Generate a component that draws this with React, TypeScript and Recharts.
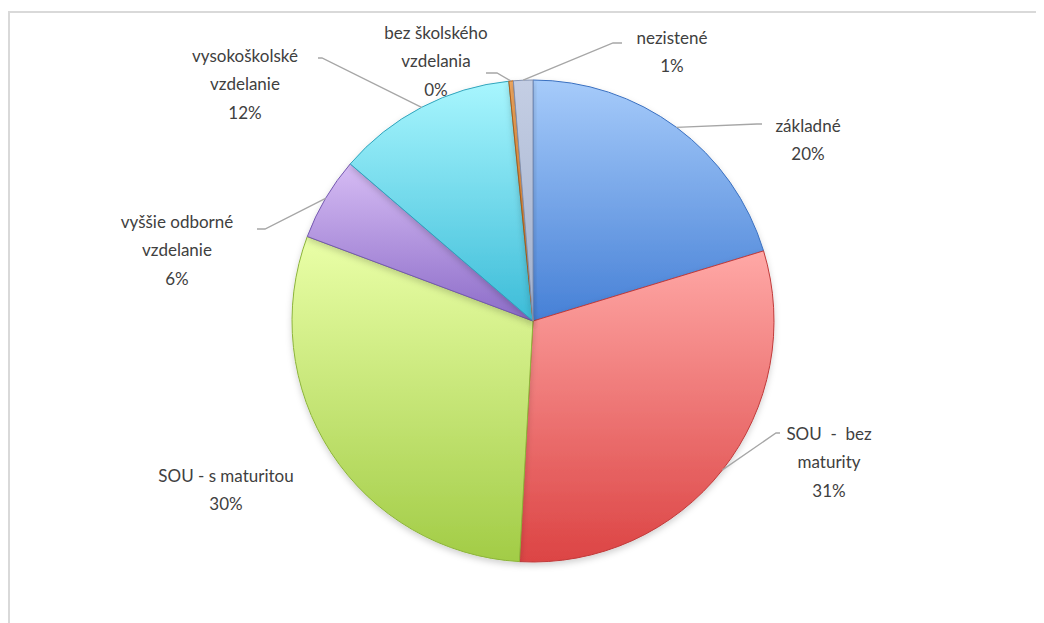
import { PieChart, Pie, Cell } from 'recharts'

const CATEGORIES = [
  'základné',
  'SOU - bez maturity',
  'SOU - s maturitou',
  'vyššie odborné vzdelanie',
  'vysokoškolské vzdelanie',
  'bez školského vzdelania',
  'nezistené',
]
const SHARES = [20.3, 30.6, 29.8, 5.6, 12.1, 0.3, 1.3]
const LABEL_LINES = [
  ['základné'],
  ['SOU  -  bez', 'maturity'],
  ['SOU - s maturitou'],
  ['vyššie odborné', 'vzdelanie'],
  ['vysokoškolské', 'vzdelanie'],
  ['bez školského', 'vzdelania'],
  ['nezistené'],
]

// top -> bottom gradient stops per slice
const FILLS = [
  ['#a6cbfa', '#4680d6'],
  ['#ffa8a6', '#dc4444'],
  ['#eaffa8', '#a2cc46'],
  ['#d6bcf4', '#8c6cc8'],
  ['#a8f6fe', '#3cbcd8'],
  ['#f0a860', '#d07420'],
  ['#c4cee4', '#a2b0cc'],
]
const EDGES = ['#3a70c0', '#c03a3a', '#8cb43a', '#7458b0', '#30a4bc', '#b0601a', '#8090b0']

// label placement relative to pie centre: text centre x, first line y, leader elbow and end
const LABEL_LAYOUT = [
  { tx: 275, ty: -196, elbow: [224, -197], end: [229, -197] },
  { tx: 296, ty: 112, elbow: [243, 112], end: [247, 112] },
  { tx: -307, ty: 154, elbow: null, end: null },
  { tx: -356, ty: -100, elbow: [-268, -92], end: [-276, -92] },
  { tx: -288, ty: -266, elbow: [-211, -263], end: [-215, -263] },
  { tx: -97, ty: -289, elbow: [-36, -248], end: [-47, -248] },
  { tx: 139, ty: -284, elbow: [80, -278], end: [89, -278] },
]

const data = CATEGORIES.map((name, i) => ({ name, value: SHARES[i] }))

const RAD = Math.PI / 180
const LINE_H = 28.5

function renderLabel(props: any) {
  const { cx, cy, midAngle, outerRadius, index, percent } = props
  const lay = LABEL_LAYOUT[index]
  const lines = [...LABEL_LINES[index], `${Math.round(percent * 100)}%`]
  const sx = cx + outerRadius * Math.cos(-midAngle * RAD)
  const sy = cy + outerRadius * Math.sin(-midAngle * RAD)
  return (
    <g key={`lbl-${index}`}>
      {lay.elbow && lay.end && (
        <polyline
          points={`${sx},${sy} ${cx + lay.elbow[0]},${cy + lay.elbow[1]} ${cx + lay.end[0]},${cy + lay.end[1]}`}
          fill="none"
          stroke="#a6a6a6"
          strokeWidth={1.3}
        />
      )}
      <text
        x={cx + lay.tx}
        y={cy + lay.ty}
        textAnchor="middle"
        fill="#404040"
        fontSize={17}
        fontFamily="Lato, 'Open Sans', sans-serif"
        style={{ whiteSpace: 'pre' }}
      >
        {lines.map((t, i) => (
          <tspan key={i} x={cx + lay.tx} y={cy + lay.ty + i * LINE_H} dominantBaseline="central">
            {t}
          </tspan>
        ))}
      </text>
    </g>
  )
}

export default function App() {
  return (
    <div style={{ position: 'relative', width: 1036, height: 615, background: '#fff' }}>
      <div
        style={{
          position: 'absolute',
          left: 0,
          top: 3,
          right: 0,
          bottom: 0,
          borderTop: '2px solid #d9d9d9',
          borderLeft: '2px solid #d9d9d9',
        }}
      />
      <div style={{ position: 'absolute', left: 0, top: 0 }}>
        <PieChart width={1036} height={615}>
          <defs>
            {FILLS.map((f, i) => (
              <linearGradient key={i} id={`g${i}`} x1="0" y1="0" x2="0" y2="1">
                <stop offset="0%" stopColor={f[0]} />
                <stop offset="100%" stopColor={f[1]} />
              </linearGradient>
            ))}
            <filter id="shadow" x="-20%" y="-20%" width="140%" height="140%">
              <feDropShadow dx="0" dy="3" stdDeviation="3" floodColor="#000" floodOpacity="0.18" />
            </filter>
          </defs>
          <Pie
            data={data}
            dataKey="value"
            nameKey="name"
            cx={520}
            cy={308}
            outerRadius={241}
            startAngle={90}
            endAngle={-270}
            label={renderLabel}
            labelLine={false}
            isAnimationActive={false}
          >
            {data.map((d, i) => (
              <Cell key={d.name} fill={`url(#g${i})`} stroke={EDGES[i]} strokeWidth={1} filter="url(#shadow)" />
            ))}
          </Pie>
        </PieChart>
      </div>
    </div>
  )
}
